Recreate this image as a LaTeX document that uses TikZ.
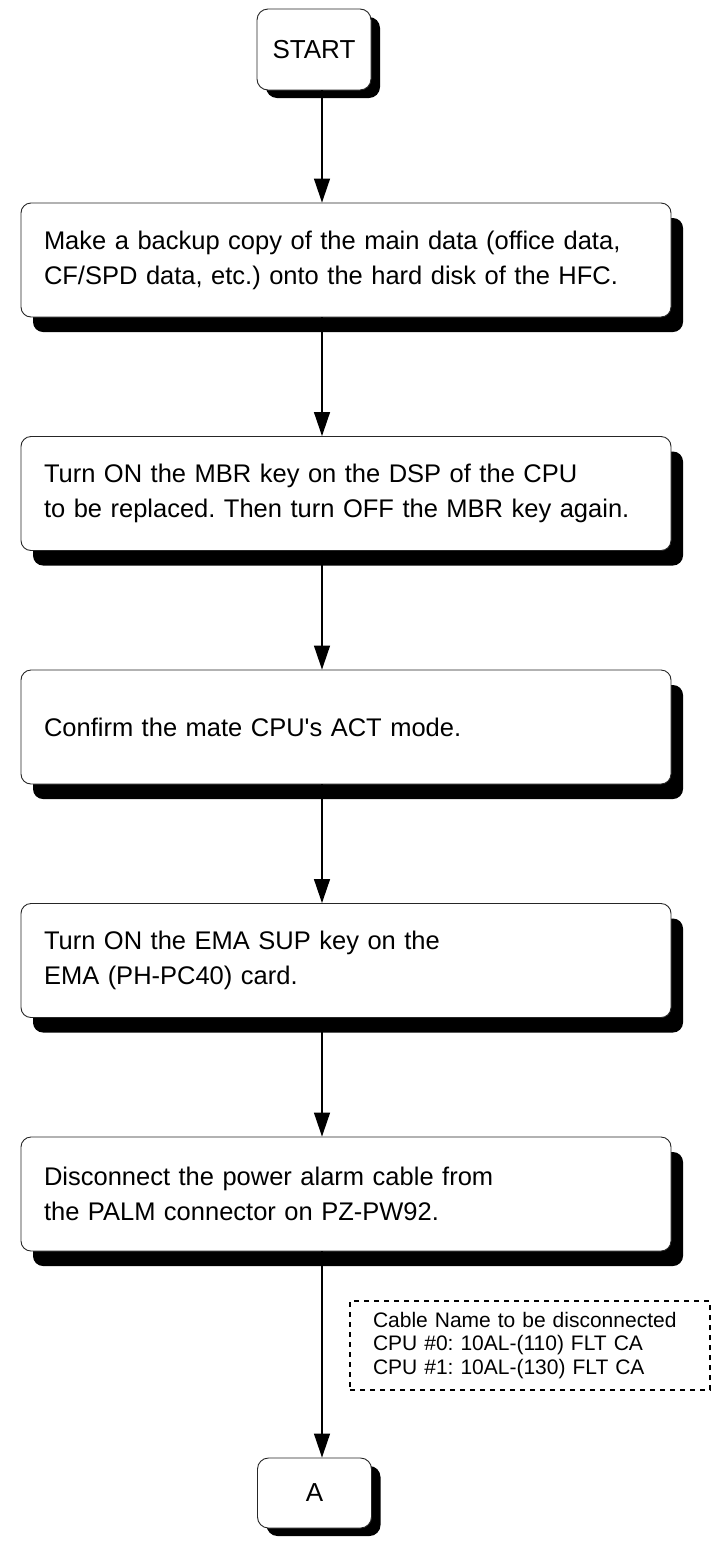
\documentclass[tikz,border=0pt]{standalone}
\usepackage{fontspec}
\setmainfont{Liberation Sans}
\usetikzlibrary{arrows.meta,shadows}
\frenchspacing

\begin{document}
\begin{tikzpicture}[x=1pt, y=-1pt,
  flowbox/.style={draw=black!85, line width=0.9pt, fill=white, rounded corners=10pt,
    minimum width=650pt, minimum height=114pt, text width=604pt, inner xsep=23pt,
    align=left, font=\fontsize{25.5pt}{35pt}\selectfont,
    drop shadow={shadow xshift=12pt, shadow yshift=-15pt, opacity=1, fill=black}},
  termbox/.style={draw=black!85, line width=0.9pt, fill=white, rounded corners=11pt,
    minimum width=114pt, inner sep=0pt, font=\fontsize{26pt}{35pt}\selectfont,
    drop shadow={shadow xshift=9pt, shadow yshift=-8pt, opacity=1, fill=black}},
  notebox/.style={draw, line width=1.2pt, dash pattern=on 5pt off 5pt,
    minimum width=360pt, minimum height=89pt, text width=314pt, inner xsep=23pt,
    align=left, font=\fontsize{21pt}{23.5pt}\selectfont},
  flowarrow/.style={line width=1.3pt, -{Triangle[length=24pt, width=16pt]}}]
  \useasboundingbox (0,0) rectangle (711,1545);
  \coordinate (spine) at (322,0);
  \node[termbox, minimum height=81pt] (start) at (314,49.5) {START};
  \node[flowbox] (b1) at (346,260) {Make a backup copy of the main data (office data,\\CF/SPD data, etc.) onto the hard disk of the HFC.};
  \node[flowbox] (b2) at (346,493.5) {Turn ON the MBR key on the DSP of the CPU\\to be replaced. Then turn OFF the MBR key again.};
  \node[flowbox] (b3) at (346,727) {Confirm the mate CPU\textquotesingle s ACT mode.};
  \node[flowbox] (b4) at (346,960.5) {Turn ON the EMA SUP key on the\\EMA (PH-PC40) card.};
  \node[flowbox] (b5) at (346,1194) {Disconnect the power alarm cable from\\the PALM connector on PZ-PW92.};
  \node[termbox, minimum height=70pt] (a) at (314.5,1493) {A};
  \foreach \u/\v in {start/b1,b1/b2,b2/b3,b3/b4,b4/b5,b5/a}
    \draw[flowarrow] (\u.south -| spine) -- (\v.north -| spine);
  \node[notebox] (note) at (530,1345.5) {Cable Name to be disconnected\\CPU \#0: 10AL-(110) FLT CA\\CPU \#1: 10AL-(130) FLT CA};
\end{tikzpicture}
\end{document}
